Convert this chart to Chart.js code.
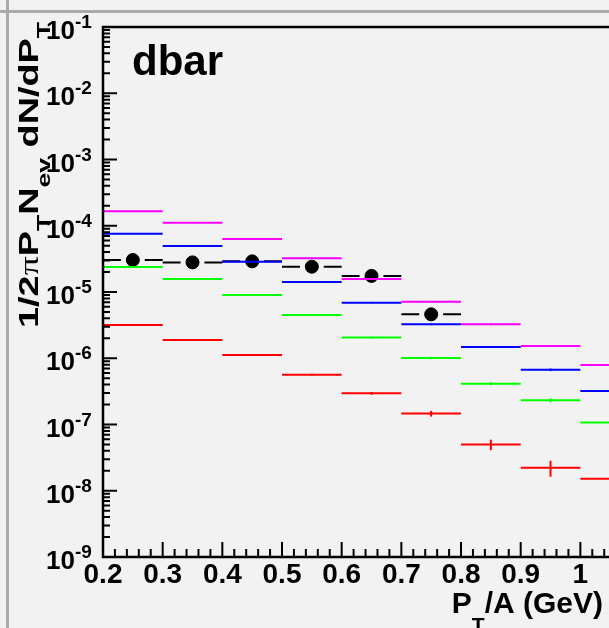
<!DOCTYPE html>
<html>
<head>
<meta charset="utf-8">
<script src="https://cdn.jsdelivr.net/npm/chart.js@4.4.1/dist/chart.umd.min.js"></script>
<style>
  html, body { margin: 0; padding: 0; background: #f2f2f2; }
  #wrap { width: 609px; height: 628px; }
</style>
</head>
<body>
<div id="wrap"><canvas id="spectrum" width="609" height="628"></canvas></div>
<script>
// bin centres in PT/A (GeV), each bin 0.1 wide
const binCenters = [0.25, 0.35, 0.45, 0.55, 0.65, 0.75, 0.85, 0.95, 1.05];
const dataCenters = [0.25, 0.35, 0.45, 0.55, 0.65, 0.75];

const magenta = [1.65e-4, 1.11e-4, 6.3e-5, 3.22e-5, 1.57e-5, 7.14e-6, 3.25e-6, 1.53e-6, 7.9e-7];
const blue    = [7.6e-5, 4.94e-5, 2.87e-5, 1.42e-5, 6.9e-6, 3.25e-6, 1.48e-6, 6.7e-7, 3.2e-7];
const green   = [2.38e-5, 1.57e-5, 9.0e-6, 4.5e-6, 2.05e-6, 1.01e-6, 4.13e-7, 2.32e-7, 1.07e-7];
const red     = [3.18e-6, 1.88e-6, 1.12e-6, 5.65e-7, 2.95e-7, 1.46e-7, 5.0e-8, 2.23e-8, 1.52e-8];
const dbar    = [3.04e-5, 2.8e-5, 2.9e-5, 2.41e-5, 1.75e-5, 4.6e-6];

const magentaErr = [3e-6, 2e-6, 1.2e-6, 7e-7, 3.5e-7, 1.8e-7, 9e-8, 5e-8, 3e-8];
const blueErr    = [1.5e-6, 1e-6, 6e-7, 3.5e-7, 1.8e-7, 9e-8, 5e-8, 3e-8, 1.5e-8];
const greenErr   = [5e-7, 3.5e-7, 2.2e-7, 1.2e-7, 6e-8, 4e-8, 2e-8, 1.6e-8, 8e-9];
const redErr     = [6e-8, 4e-8, 3e-8, 1.6e-8, 1.4e-8, 1.45e-8, 9e-9, 6e-9, 4e-9];

const xTicks = [0.2, 0.3, 0.4, 0.5, 0.6, 0.7, 0.8, 0.9, 1.0];
const xTickLabels = ["0.2", "0.3", "0.4", "0.5", "0.6", "0.7", "0.8", "0.9", "1"];
const yTickExps = [-1, -2, -3, -4, -5, -6, -7, -8, -9];

const BIN_HALF = 0.05;
const MARKER_GAP = 0.02;
const FONT = '"Liberation Sans", Arial, sans-serif';

function steps(vals) {
  const pts = [];
  vals.forEach((v, i) => {
    const c = binCenters[i];
    pts.push({ x: c - BIN_HALF, y: v }, { x: c + BIN_HALF, y: v }, { x: c + BIN_HALF, y: null });
  });
  return pts;
}

function gappedBars(vals, centers) {
  const pts = [];
  vals.forEach((v, i) => {
    const c = centers[i];
    pts.push({ x: c - BIN_HALF, y: v }, { x: c - MARKER_GAP, y: v }, { x: c - MARKER_GAP, y: null });
    pts.push({ x: c + MARKER_GAP, y: v }, { x: c + BIN_HALF, y: v }, { x: c + BIN_HALF, y: null });
  });
  return pts;
}

function histSet(vals, errs, color) {
  return {
    type: "line",
    data: steps(vals),
    borderColor: color,
    borderWidth: 2,
    pointRadius: 0,
    fill: false,
    spanGaps: false,
    errVals: vals,
    errs: errs
  };
}

const rootAxes = {
  id: "rootAxes",
  beforeDraw(chart) {
    const ctx = chart.ctx;
    ctx.save();
    ctx.fillStyle = "#f2f2f2";
    ctx.fillRect(0, 0, chart.width, chart.height);
    ctx.fillStyle = "#aaaaaa";
    ctx.fillRect(0, 10, chart.width, 3);
    ctx.fillRect(6, 0, 3, chart.height);
    ctx.restore();
  },
  afterDatasetDraw(chart, args) {
    const ds = chart.data.datasets[args.index];
    if (!ds.errs) return;
    const { ctx, chartArea, scales } = chart;
    ctx.save();
    ctx.beginPath();
    ctx.rect(chartArea.left, chartArea.top, chartArea.right - chartArea.left, chartArea.bottom - chartArea.top);
    ctx.clip();
    ctx.strokeStyle = ds.borderColor;
    ctx.lineWidth = 2;
    ds.errVals.forEach((v, i) => {
      const px = scales.x.getPixelForValue(binCenters[i]);
      ctx.beginPath();
      ctx.moveTo(px, scales.y.getPixelForValue(v + ds.errs[i]));
      ctx.lineTo(px, scales.y.getPixelForValue(v - ds.errs[i]));
      ctx.stroke();
    });
    ctx.restore();
  },
  afterDraw(chart) {
    const { ctx, chartArea, scales } = chart;
    const x = scales.x, y = scales.y;
    const L = chartArea.left, R = chartArea.right, T = chartArea.top, B = chartArea.bottom;
    ctx.save();
    ctx.strokeStyle = "#000";
    ctx.fillStyle = "#000";

    // frame
    ctx.lineWidth = 2.5;
    ctx.beginPath();
    ctx.moveTo(R, T); ctx.lineTo(L, T); ctx.lineTo(L, B); ctx.lineTo(R, B);
    ctx.stroke();

    // y ticks
    ctx.lineWidth = 2;
    ctx.beginPath();
    yTickExps.forEach(e => {
      const py = y.getPixelForValue(Math.pow(10, e));
      ctx.moveTo(L, py); ctx.lineTo(L + 14, py);
      if (e > -9) {
        for (let m = 2; m <= 9; m++) {
          const pm = y.getPixelForValue(m * Math.pow(10, e - 1));
          ctx.moveTo(L, pm); ctx.lineTo(L + 7, pm);
        }
      }
    });
    // x ticks
    xTicks.forEach(v => {
      const px = x.getPixelForValue(v);
      ctx.moveTo(px, B); ctx.lineTo(px, B - 15);
    });
    for (let k = 10; k * 0.02 <= x.max + 1e-9; k++) {
      const px = x.getPixelForValue(k * 0.02);
      ctx.moveTo(px, B); ctx.lineTo(px, B - 8);
    }
    ctx.stroke();

    // y labels
    yTickExps.forEach(e => {
      const py = y.getPixelForValue(Math.pow(10, e));
      ctx.font = "bold 26px " + FONT;
      ctx.textAlign = "right";
      ctx.fillText("10", 75, py + 12);
      ctx.font = "bold 19px " + FONT;
      ctx.textAlign = "left";
      ctx.fillText(String(e), 75, py + 1);
    });

    // x labels
    ctx.font = "bold 28px " + FONT;
    ctx.textAlign = "center";
    xTicks.forEach((v, i) => {
      ctx.fillText(xTickLabels[i], x.getPixelForValue(v), 583);
    });

    // x title
    ctx.textAlign = "left";
    const big = "bold 30px " + FONT, small = "bold 21px " + FONT;
    ctx.font = big;  const w1 = ctx.measureText("P").width;
    ctx.font = small; const w2 = ctx.measureText("T").width;
    ctx.font = big;  const w3 = ctx.measureText("/A (GeV)").width;
    let sx = 603 - (w1 + w2 + w3);
    ctx.font = big; ctx.fillText("P", sx, 613); sx += w1;
    ctx.font = small; ctx.fillText("T", sx, 632); sx += w2;
    ctx.font = big; ctx.fillText("/A (GeV)", sx, 613);

    // y title, rotated
    const parts = [
      { t: "1/2", f: "bold 27px " + FONT, dy: 0 },
      { t: "\u03c0", f: "27px \"Liberation Serif\", serif", dy: 0 },
      { t: "P", f: "bold 27px " + FONT, dy: 0 },
      { t: "T", f: "bold 19px " + FONT, dy: 12 },
      { t: "N", f: "bold 27px " + FONT, dy: 0 },
      { t: "ev", f: "bold 19px " + FONT, dy: 12 },
      { t: " dN/dP", f: "bold 27px " + FONT, dy: 0 },
      { t: "T", f: "bold 19px " + FONT, dy: 12 }
    ];
    let total = 0;
    parts.forEach(p => { ctx.font = p.f; p.w = ctx.measureText(p.t).width; total += p.w; });
    ctx.save();
    ctx.translate(38, 22);
    ctx.rotate(-Math.PI / 2);
    ctx.scale(1.4, 1);
    let tx = -total;
    parts.forEach(p => { ctx.font = p.f; ctx.fillText(p.t, tx, p.dy); tx += p.w; });
    ctx.restore();

    // panel label
    ctx.font = "bold 42px " + FONT;
    ctx.textAlign = "left";
    ctx.fillText("dbar", 132, 75);
    ctx.restore();
  }
};

new Chart(document.getElementById("spectrum"), {
  type: "line",
  data: {
    datasets: [
      histSet(magenta, magentaErr, "#ff00ff"),
      histSet(blue, blueErr, "#0000ff"),
      histSet(green, greenErr, "#00ff00"),
      histSet(red, redErr, "#ff0000"),
      {
        type: "line",
        data: gappedBars(dbar, dataCenters),
        borderColor: "#000",
        borderWidth: 2,
        pointRadius: 0,
        fill: false,
        spanGaps: false
      },
      {
        type: "scatter",
        data: dbar.map((v, i) => ({ x: dataCenters[i], y: v })),
        backgroundColor: "#000",
        borderColor: "#000",
        borderWidth: 1,
        pointRadius: 6.5,
        showLine: false
      }
    ]
  },
  options: {
    responsive: false,
    animation: false,
    devicePixelRatio: 1,
    layout: { autoPadding: false, padding: { top: 27, left: 0, right: 0, bottom: 0 } },
    plugins: { legend: { display: false }, tooltip: { enabled: false } },
    scales: {
      x: {
        type: "linear", min: 0.2, max: 1.048,
        grid: { display: false }, border: { display: false },
        ticks: { display: false },
        afterFit(s) { s.height = 71; }
      },
      y: {
        type: "logarithmic", min: 1e-9, max: 1e-1,
        grid: { display: false }, border: { display: false },
        ticks: { display: false },
        afterFit(s) { s.width = 103; }
      }
    }
  },
  plugins: [rootAxes]
});
</script>
</body>
</html>
